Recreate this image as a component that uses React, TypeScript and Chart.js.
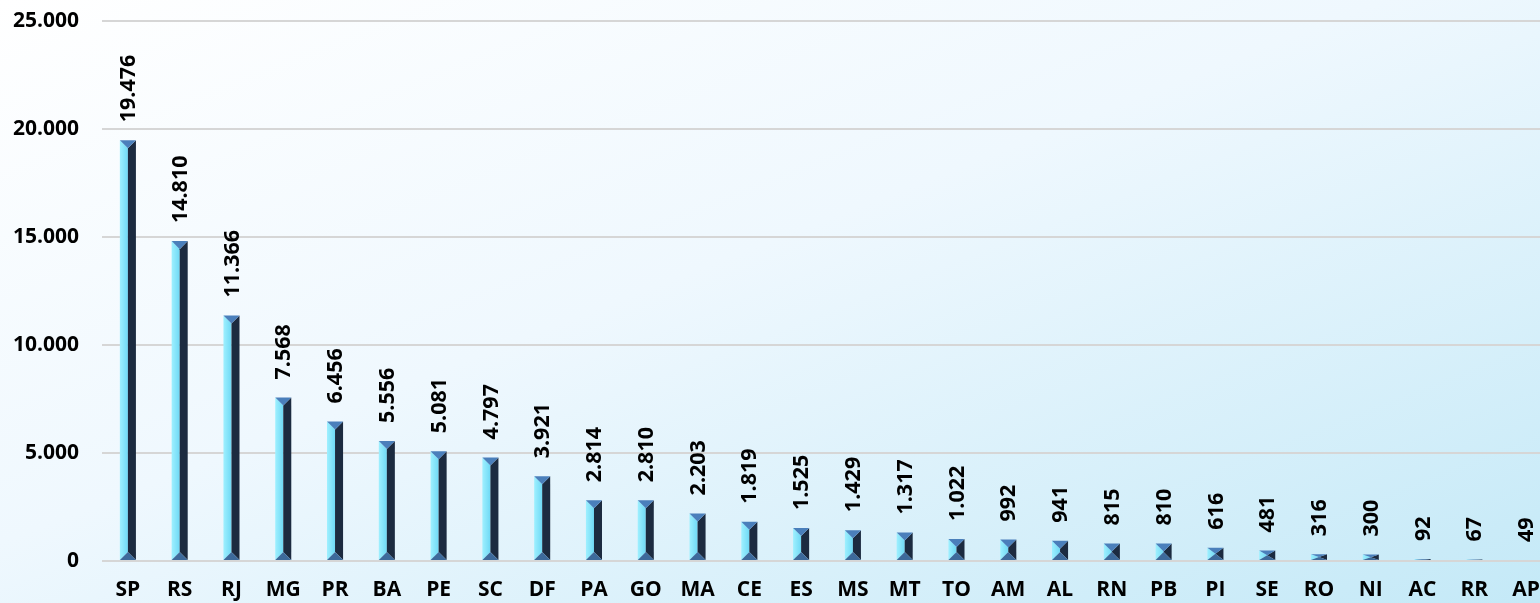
import React, { useEffect, useRef } from "react";
import { Chart, registerables } from "chart.js";

Chart.register(...registerables);

const categories = ["SP","RS","RJ","MG","PR","BA","PE","SC","DF","PA","GO","MA","CE","ES","MS","MT","TO","AM","AL","RN","PB","PI","SE","RO","NI","AC","RR","AP"];
const values = [19476,14810,11366,7568,6456,5556,5081,4797,3921,2814,2810,2203,1819,1525,1429,1317,1022,992,941,815,810,616,481,316,300,92,67,49];
const yTicks = [0, 5000, 10000, 15000, 20000, 25000];

const FONT = "'Open Sans', sans-serif";

function fmt(v: number): string {
  const s = Math.round(v).toString();
  return s.replace(/\B(?=(\d{3})+(?!\d))/g, ".");
}

const bevelPlugin = {
  id: "bevelBars",
  afterDatasetsDraw(chart: any) {
    const ctx = chart.ctx;
    const meta = chart.getDatasetMeta(0);
    ctx.save();
    meta.data.forEach((el: any, i: number) => {
      const p = el.getProps(["x", "y", "base", "width"], true);
      const cx = p.x;
      const w = p.width;
      const left = cx - w / 2;
      const right = cx + w / 2;
      const top = p.y;
      const bottom = p.base;
      const h = bottom - top;
      const c = Math.min(w / 2, h / 2);
      const g = ctx.createLinearGradient(left, 0, cx, 0);
      g.addColorStop(0, "#9ff0ff");
      g.addColorStop(1, "#6fd9f5");
      ctx.fillStyle = g;
      ctx.beginPath();
      ctx.moveTo(left, top);
      ctx.lineTo(cx, top + c);
      ctx.lineTo(cx, bottom - c);
      ctx.lineTo(left, bottom);
      ctx.closePath();
      ctx.fill();
      ctx.fillStyle = "#1c2b40";
      ctx.beginPath();
      ctx.moveTo(cx, top + c);
      ctx.lineTo(right, top);
      ctx.lineTo(right, bottom);
      ctx.lineTo(cx, bottom - c);
      ctx.closePath();
      ctx.fill();
      ctx.fillStyle = "#4a7fbb";
      ctx.beginPath();
      ctx.moveTo(left, top);
      ctx.lineTo(right, top);
      ctx.lineTo(cx, top + c);
      ctx.closePath();
      ctx.fill();
      ctx.fillStyle = "#3d6a9b";
      ctx.beginPath();
      ctx.moveTo(left, bottom);
      ctx.lineTo(right, bottom);
      ctx.lineTo(cx, bottom - c);
      ctx.closePath();
      ctx.fill();
      ctx.save();
      ctx.translate(cx, top - 18);
      ctx.rotate(-Math.PI / 2);
      ctx.fillStyle = "#000000";
      ctx.font = "bold 21.5px " + FONT;
      ctx.textAlign = "left";
      ctx.textBaseline = "middle";
      ctx.fillText(fmt(values[i]), 0, 1);
      ctx.restore();
    });
    ctx.restore();
  },
};

export default function App() {
  const ref = useRef<HTMLCanvasElement | null>(null);
  useEffect(() => {
    if (!ref.current) return;
    const chart = new Chart(ref.current, {
      type: "bar",
      data: {
        labels: categories,
        datasets: [
          {
            data: values,
            backgroundColor: "rgba(0,0,0,0)",
            borderWidth: 0,
            barPercentage: 0.31,
            categoryPercentage: 1,
          },
        ],
      },
      options: {
        responsive: false,
        animation: false,
        maintainAspectRatio: false,
        layout: { padding: { top: 21, right: 2, left: 0, bottom: 0 } },
        plugins: {
          legend: { display: false },
          tooltip: { enabled: false },
        },
        scales: {
          x: {
            grid: { display: false, drawTicks: false },
            border: { display: false },
            ticks: {
              color: "#000",
              font: { family: FONT, size: 21, weight: "bold" },
              padding: 16,
              maxRotation: 0,
              autoSkip: false,
            },
            afterFit(scale: any) {
              scale.height = 42;
              scale.paddingTop = 0;
              scale.paddingBottom = 0;
            },
          },
          y: {
            min: 0,
            max: 25000,
            afterBuildTicks(scale: any) {
              scale.ticks = yTicks.map((v) => ({ value: v }));
            },
            grid: { color: "#d6d6d6", lineWidth: 2, drawTicks: false },
            border: { display: false },
            ticks: {
              color: "#000",
              font: { family: FONT, size: 21, weight: "bold" },
              padding: 23,
              callback: (v: any) => fmt(Number(v)),
            },
            afterFit(scale: any) {
              scale.width = 102;
              scale.paddingTop = 0;
              scale.paddingBottom = 0;
            },
          },
        },
      },
      plugins: [bevelPlugin],
    });
    return () => chart.destroy();
  }, []);
  return (
    <div
      style={{
        position: "fixed",
        left: 0,
        top: 0,
        width: 1540,
        height: 603,
        overflow: "hidden",
        background: "linear-gradient(to bottom right, #ffffff 0%, #eff8fe 45%, #c4e9f7 100%)",
      }}
    >
      <canvas ref={ref} width={1556} height={603} style={{ display: "block" }} />
    </div>
  );
}
